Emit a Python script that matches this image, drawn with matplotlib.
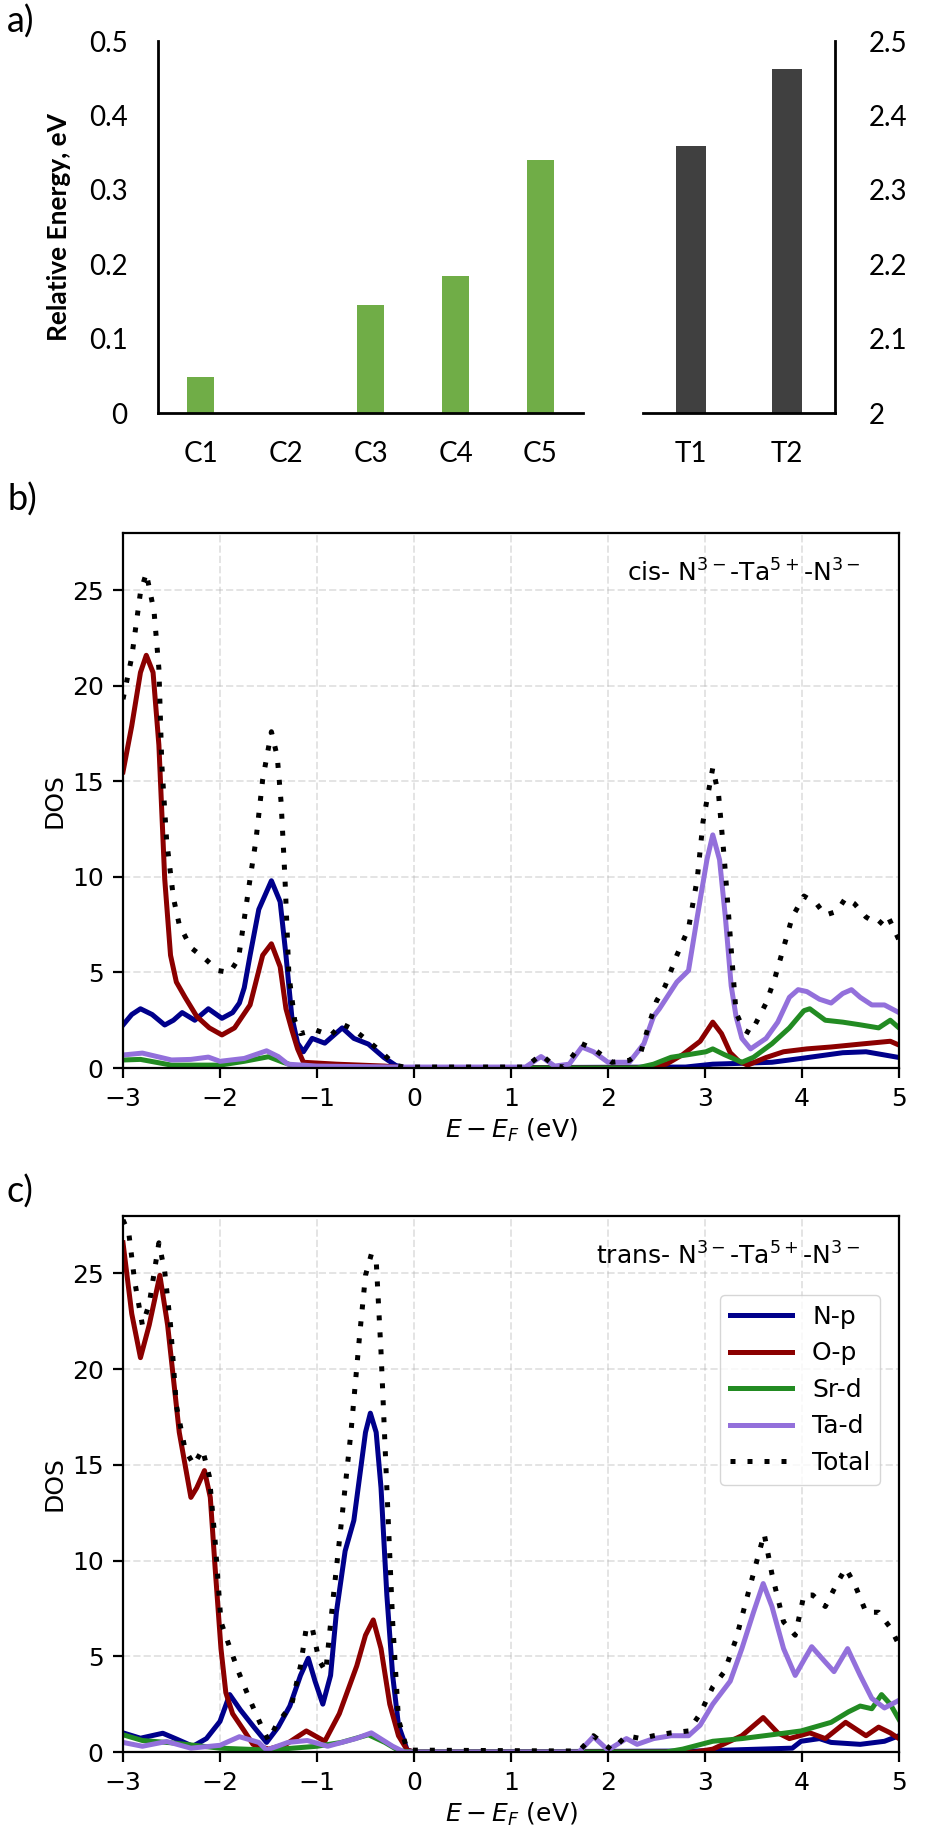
import matplotlib.pyplot as plt
from matplotlib.ticker import FuncFormatter

# ---- panel a: relative energies ----
cis_labels = ["C1", "C2", "C3", "C4", "C5"]
cis_energy = [0.048, 0.0, 0.145, 0.184, 0.34]
trans_labels = ["T1", "T2"]
trans_energy = [2.359, 2.463]

# ---- panel b: cis DOS ----
b_np_x = [-3.0, -2.91, -2.82, -2.70, -2.57, -2.48, -2.39, -2.26, -2.12, -1.98, -1.87, -1.80, -1.75,
          -1.69, -1.60, -1.47, -1.38, -1.32, -1.26, -1.20, -1.14, -1.05, -0.92, -0.74, -0.62, -0.47,
          -0.31, -0.19, -0.10, 2.8, 3.08, 3.4, 3.69, 3.99, 4.42, 4.66, 5.0]
b_np_y = [2.25, 2.8, 3.1, 2.8, 2.25, 2.5, 2.9, 2.5, 3.1, 2.6, 2.9, 3.4, 4.2,
          5.9, 8.3, 9.8, 8.7, 5.9, 2.7, 1.3, 0.85, 1.55, 1.3, 2.1, 1.55, 1.25,
          0.55, 0.14, 0.0, 0.05, 0.2, 0.25, 0.3, 0.5, 0.8, 0.85, 0.55]

b_op_x = [-3.0, -2.91, -2.82, -2.76, -2.69, -2.63, -2.57, -2.51, -2.45, -2.36, -2.24, -2.11, -1.98,
          -1.85, -1.69, -1.56, -1.47, -1.38, -1.32, -1.26, -1.20, -1.14, -0.8, -0.3, -0.1, 2.4, 2.6,
          2.77, 2.95, 3.08, 3.17, 3.26, 3.35, 3.44, 3.63, 3.81, 4.05, 4.30, 4.60, 4.91, 5.0]
b_op_y = [15.5, 17.9, 20.7, 21.6, 20.7, 16.9, 9.9, 5.9, 4.5, 3.7, 2.7, 2.1, 1.73,
          2.1, 3.3, 5.9, 6.5, 5.3, 3.1, 2.0, 1.0, 0.3, 0.2, 0.1, 0.0, 0.0, 0.2,
          0.7, 1.4, 2.4, 1.8, 0.8, 0.35, 0.15, 0.55, 0.85, 1.0, 1.1, 1.25, 1.4, 1.2]

b_srd_x = [-3.0, -2.82, -2.5, -2.0, -1.75, -1.5, -1.35, -1.2, -0.5, 2.3, 2.47, 2.65, 2.83, 3.01,
           3.08, 3.2, 3.38, 3.5, 3.69, 3.87, 4.02, 4.08, 4.24, 4.42, 4.60, 4.79, 4.91, 5.0]
b_srd_y = [0.42, 0.45, 0.15, 0.15, 0.35, 0.59, 0.3, 0.05, 0.0, 0.0, 0.2, 0.56, 0.7, 0.85,
           1.0, 0.7, 0.3, 0.56, 1.27, 2.1, 3.0, 3.1, 2.5, 2.4, 2.26, 2.1, 2.5, 2.1]

b_tad_x = [-3.0, -2.8, -2.5, -2.3, -2.12, -2.0, -1.75, -1.52, -1.40, -1.3, -1.0, -0.2, 1.15, 1.31,
           1.45, 1.6, 1.73, 1.85, 2.0, 2.22, 2.37, 2.47, 2.53, 2.71, 2.83, 2.92, 3.02, 3.08, 3.15,
           3.21, 3.27, 3.32, 3.38, 3.47, 3.63, 3.75, 3.87, 3.96, 4.05, 4.18, 4.30, 4.42, 4.51, 4.60,
           4.72, 4.85, 5.0]
b_tad_y = [0.68, 0.78, 0.42, 0.45, 0.57, 0.35, 0.5, 0.9, 0.6, 0.2, 0.1, 0.05, 0.05, 0.6,
           0.1, 0.2, 1.1, 0.85, 0.3, 0.3, 1.27, 2.7, 3.1, 4.5, 5.1, 7.9, 10.9, 12.2, 10.9,
           7.9, 4.3, 2.7, 1.55, 1.0, 1.55, 2.4, 3.7, 4.1, 4.0, 3.6, 3.4, 3.9, 4.1, 3.7,
           3.3, 3.3, 2.9]

b_tot_x = [-3.0, -2.91, -2.82, -2.76, -2.68, -2.63, -2.60, -2.55, -2.48, -2.42, -2.30, -2.15, -2.02,
           -1.90, -1.81, -1.69, -1.63, -1.56, -1.47, -1.41, -1.37, -1.33, -1.29, -1.23, -1.17, -1.02,
           -0.86, -0.74, -0.62, -0.47, -0.34, -0.19, -0.10, 1.15, 1.31, 1.45, 1.55, 1.73, 1.85, 2.04,
           2.22, 2.34, 2.43, 2.50, 2.59, 2.71, 2.83, 2.92, 2.98, 3.08, 3.14, 3.20, 3.26, 3.32, 3.40,
           3.47, 3.55, 3.63, 3.72, 3.81, 3.90, 4.02, 4.15, 4.24, 4.36, 4.45, 4.54, 4.66, 4.79, 4.88,
           5.0]
b_tot_y = [19.3, 21.5, 24.9, 25.9, 23.9, 20.9, 15.9, 11.9, 8.9, 7.5, 6.3, 5.7, 5.1,
           5.0, 5.7, 9.9, 11.9, 15.1, 17.6, 16.3, 13.9, 9.9, 4.9, 2.5, 1.8, 2.0,
           1.7, 2.3, 2.0, 1.4, 0.85, 0.14, 0.05, 0.05, 0.7, 0.1, 0.05, 1.27, 1.0, 0.3,
           0.4, 0.85, 2.4, 3.5, 4.3, 5.9, 7.3, 9.9, 12.9, 15.7, 14.3, 10.9, 6.9, 2.9, 2.0,
           1.8, 2.6, 3.4, 4.7, 6.3, 7.9, 9.0, 8.6, 8.0, 8.2, 8.9, 8.6, 7.9, 7.5, 8.0,
           6.7]

# ---- panel c: trans DOS ----
c_np_x = [-3.0, -2.82, -2.59, -2.45, -2.28, -2.14, -2.0, -1.9, -1.79, -1.65, -1.52, -1.40, -1.28,
          -1.17, -1.09, -1.02, -0.94, -0.86, -0.80, -0.71, -0.62, -0.56, -0.50, -0.45, -0.39,
          -0.34, -0.28, -0.22, -0.16, -0.07, 0.0, 2.9, 3.9, 3.99, 4.18, 4.30, 4.60, 4.85, 5.0]
c_np_y = [1.0, 0.72, 0.98, 0.68, 0.3, 0.7, 1.6, 3.0, 2.2, 1.3, 0.5, 1.3, 2.4,
          4.0, 4.9, 3.7, 2.5, 4.0, 7.3, 10.5, 12.1, 14.4, 16.7, 17.7, 16.7,
          13.8, 8.2, 4.0, 1.4, 0.1, 0.0, 0.05, 0.2, 0.56, 0.7, 0.5, 0.4, 0.56, 0.85]

c_op_x = [-3.0, -2.91, -2.82, -2.73, -2.62, -2.54, -2.48, -2.42, -2.30, -2.24, -2.16, -2.10, -2.05,
          -1.99, -1.94, -1.87, -1.75, -1.66, -1.5, -1.32, -1.11, -0.92, -0.77, -0.59, -0.50, -0.42,
          -0.34, -0.25, -0.16, -0.07, 0.0, 2.9, 3.08, 3.38, 3.60, 3.75, 3.87, 4.08, 4.24, 4.45,
          4.66, 4.79, 4.91, 5.0]
c_op_y = [26.6, 22.9, 20.6, 22.3, 24.9, 22.3, 19.5, 16.7, 13.3, 13.8, 14.7, 13.3, 9.6,
          5.4, 3.1, 2.0, 1.1, 0.4, 0.15, 0.4, 1.1, 0.56, 2.0, 4.5, 6.1, 6.9,
          5.4, 2.5, 0.85, 0.1, 0.0, 0.0, 0.15, 0.85, 1.8, 1.0, 0.7, 1.0, 0.7, 1.55,
          0.85, 1.3, 1.0, 0.7]

c_srd_x = [-3.0, -2.8, -2.5, -2.0, -1.5, -1.0, -0.75, -0.47, -0.3, -0.15, 0.0, 2.6, 2.77, 3.08,
           3.38, 3.69, 3.99, 4.30, 4.48, 4.60, 4.72, 4.82, 4.91, 5.0]
c_srd_y = [0.9, 0.6, 0.48, 0.2, 0.1, 0.3, 0.5, 0.9, 0.5, 0.05, 0.0, 0.0, 0.15, 0.56,
           0.7, 0.9, 1.1, 1.55, 2.1, 2.4, 2.26, 3.0, 2.5, 1.7]

c_tad_x = [-3.0, -2.8, -2.55, -2.3, -2.0, -1.8, -1.6, -1.52, -1.3, -1.1, -0.89, -0.6, -0.44, -0.22,
           -0.1, 1.7, 1.85, 2.0, 2.19, 2.3, 2.47, 2.65, 2.83, 2.95, 3.08, 3.26, 3.38, 3.50, 3.60,
           3.69, 3.81, 3.93, 4.02, 4.10, 4.24, 4.33, 4.47, 4.60, 4.72, 4.85, 5.0]
c_tad_y = [0.5, 0.3, 0.55, 0.2, 0.35, 0.8, 0.5, 0.1, 0.5, 0.6, 0.3, 0.7, 1.0, 0.3,
           0.0, 0.0, 0.8, 0.1, 0.7, 0.4, 0.7, 0.85, 0.85, 1.4, 2.5, 3.7, 5.4, 7.3, 8.8,
           7.6, 5.4, 4.0, 4.8, 5.5, 4.7, 4.2, 5.4, 4.0, 2.8, 2.3, 2.7]

c_tot_x = [-3.0, -2.94, -2.88, -2.80, -2.73, -2.63, -2.57, -2.51, -2.45, -2.36, -2.27, -2.18, -2.11,
           -2.05, -1.99, -1.93, -1.81, -1.69, -1.56, -1.50, -1.42, -1.26, -1.17, -1.11, -1.05, -0.98,
           -0.91, -0.83, -0.74, -0.65, -0.56, -0.50, -0.44, -0.39, -0.34, -0.28, -0.22, -0.16, -0.07,
           1.7, 1.85, 2.04, 2.19, 2.34, 2.47, 2.65, 2.83, 2.95, 3.08, 3.20, 3.32, 3.44, 3.53, 3.61,
           3.69, 3.81, 3.93, 4.02, 4.11, 4.24, 4.36, 4.45, 4.54, 4.66, 4.79, 4.91, 5.0]
c_tot_y = [27.8, 27.1, 24.6, 22.3, 23.4, 26.6, 25.1, 22.3, 18.1, 15.8, 15.0, 15.8, 14.4,
           11.0, 6.8, 5.9, 4.2, 2.7, 1.2, 0.6, 1.4, 2.5, 4.5, 6.5, 6.5, 4.8,
           4.2, 8.2, 12.4, 16.7, 21.8, 24.9, 26.0, 25.7, 20.9, 13.8, 6.8, 1.7, 0.1,
           0.05, 0.85, 0.1, 0.85, 0.7, 0.85, 1.0, 1.1, 2.0, 3.4, 4.2, 5.9, 8.2, 9.9, 11.4,
           9.3, 6.8, 6.1, 8.2, 8.2, 7.6, 8.8, 9.6, 8.8, 7.3, 7.3, 6.5, 5.6]

W, H = 930, 1848
fig = plt.figure(figsize=(W / 100, H / 100), dpi=100)


def px_axes(left, top, right, bottom):
    return fig.add_axes([left / W, 1 - bottom / H, (right - left) / W, (bottom - top) / H])


excel_font = "Lato"
fmt = FuncFormatter(lambda v, p: "%g" % round(v, 3))

# panel a, cis part
ax1 = px_axes(158, 41, 583, 413)
ax1.bar(cis_labels, cis_energy, width=0.31, color="#70AD47")
ax1.set_xlim(-0.5, 4.5)
ax1.set_ylim(0, 0.5)
ax1.set_yticks([0, 0.1, 0.2, 0.3, 0.4, 0.5])
ax1.yaxis.set_major_formatter(fmt)
for s in ["top", "right"]:
    ax1.spines[s].set_visible(False)
for s in ["left", "bottom"]:
    ax1.spines[s].set_linewidth(2)
ax1.tick_params(axis="y", length=0, pad=22, labelsize=20)
ax1.tick_params(axis="x", length=0, pad=20, labelsize=20)

# panel a, trans part
ax2 = px_axes(643, 41, 835, 413)
ax2.bar(trans_labels, trans_energy, width=0.31, color="#404040")
ax2.set_xlim(-0.5, 1.5)
ax2.set_ylim(2.0, 2.5)
ax2.set_yticks([2.0, 2.1, 2.2, 2.3, 2.4, 2.5])
ax2.yaxis.set_major_formatter(fmt)
ax2.yaxis.tick_right()
for s in ["top", "left"]:
    ax2.spines[s].set_visible(False)
for s in ["right", "bottom"]:
    ax2.spines[s].set_linewidth(2)
ax2.tick_params(axis="y", length=0, pad=24, labelsize=20)
ax2.tick_params(axis="x", length=0, pad=20, labelsize=20)

for a in (ax1, ax2):
    for lab in a.get_xticklabels() + a.get_yticklabels():
        lab.set_family(excel_font)

fig.text(59 / W, 1 - 227 / H, "Relative Energy, eV", rotation=90, ha="center", va="center",
         fontsize=19, fontweight="bold", family=excel_font)

# panel labels
fig.text(7 / W, 1 - 22 / H, "a)", fontsize=26, va="center", family=excel_font)
fig.text(7 / W, 1 - 500 / H, "b)", fontsize=26, va="center", family=excel_font)
fig.text(7 / W, 1 - 1192 / H, "c)", fontsize=26, va="center", family=excel_font)


def dos_panel(ax, data, title, legend=False):
    colors = ["darkblue", "darkred", "forestgreen", "mediumpurple"]
    names = ["N-p", "O-p", "Sr-d", "Ta-d"]
    for (x, y), c, n in zip(data[:4], colors, names):
        ax.plot(x, y, color=c, lw=3.6, label=n)
    ax.plot(data[4][0], data[4][1], color="k", lw=3.6, ls=(0, (1, 2.4)), label="Total")
    ax.set_xlim(-3, 5)
    ax.set_ylim(0, 28)
    ax.set_xticks(range(-3, 6))
    ax.set_yticks(range(0, 26, 5))
    ax.grid(True, ls="--", lw=1.4, alpha=0.35)
    ax.tick_params(labelsize=18, length=7, width=1.6, pad=7)
    for s in ax.spines.values():
        s.set_linewidth(1.6)
    ax.set_xlabel("$E-E_F$ (eV)", fontsize=18)
    ax.set_ylabel("DOS", fontsize=18)
    ax.text(0.95, 0.95, title, transform=ax.transAxes, ha="right", va="top", fontsize=18)
    if legend:
        ax.legend(loc="upper right", bbox_to_anchor=(0.976, 0.853), borderaxespad=0,
                  fontsize=18, handlelength=2.5)


axb = px_axes(123, 533, 899, 1068)
dos_panel(axb, [(b_np_x, b_np_y), (b_op_x, b_op_y), (b_srd_x, b_srd_y), (b_tad_x, b_tad_y),
                (b_tot_x, b_tot_y)], "cis- N$^{3-}$-Ta$^{5+}$-N$^{3-}$")

axc = px_axes(123, 1216, 899, 1752)
dos_panel(axc, [(c_np_x, c_np_y), (c_op_x, c_op_y), (c_srd_x, c_srd_y), (c_tad_x, c_tad_y),
                (c_tot_x, c_tot_y)], "trans- N$^{3-}$-Ta$^{5+}$-N$^{3-}$", legend=True)

fig.savefig("out.png", dpi=100)
